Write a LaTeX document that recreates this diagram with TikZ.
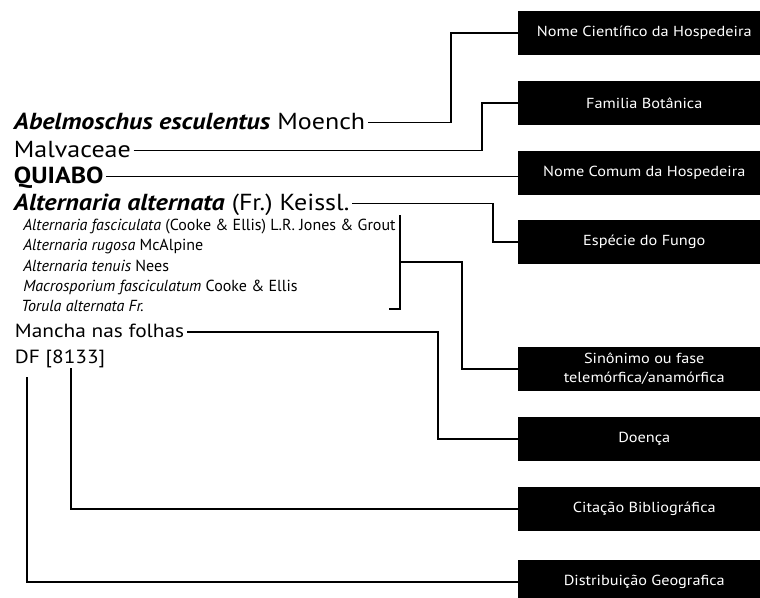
\documentclass[tikz,border=0pt]{standalone}
\usepackage{fontspec}
\setmainfont{PT Sans}
\newfontfamily\widesans{PT Sans}[FakeStretch=1.12]
\usepackage{tikz}
\usetikzlibrary{calc}
\frenchspacing

\begin{document}
\begin{tikzpicture}[x=0.75pt,y=-0.75pt,
entry/.style={anchor=base west,inner xsep=2pt,inner ysep=0pt,text height=10pt,text depth=0pt,font=\widesans\fontsize{17.4}{19}\selectfont},
small/.style={anchor=base west,inner sep=0pt,font=\fontsize{12}{13}\selectfont},
mid/.style={entry,text height=7.5pt,font=\widesans\fontsize{14.3}{16}\selectfont},
label/.style={anchor=north west,fill=black,text=white,minimum width=189pt,minimum height=32.5pt,align=center,inner sep=0pt,font=\widesans\fontsize{10.9}{14}\selectfont},
link/.style={line width=1pt}]
\useasboundingbox (0,0) rectangle (760,597);
\node[label] (sci) at (518, 11) {Nome Científico da Hospedeira};
\node[label] (fam) at (518, 81) {Familia Botânica};
\node[label] (com) at (518,151) {Nome Comum da Hospedeira};
\node[label] (fun) at (518,220) {Espécie do Fungo};
\node[label] (sin) at (518,347) {Sinônimo ou fase\\telemórfica/anamórfica};
\node[label] (doe) at (518,417) {Doença};
\node[label] (cit) at (518,487) {Citação Bibliográfica};
\node[label] (dis) at (518,560) {Distribuição Geografica};
\node[entry] (host) at (11,129) {\textbf{\textit{Abelmoschus esculentus}} Moench};
\node[entry] (family) at (11,157) {Malvaceae};
\node[entry] (common) at (11,183) {\textbf{QUIABO}};
\node[entry] (fungus) at (11,210) {\textbf{\textit{Alternaria alternata}} (Fr.) Keissl.};
\node[small] (syn1) at (23,230) {\textit{Alternaria fasciculata} (Cooke \& Ellis) L.R. Jones \& Grout};
\node[small] (syn2) at (23,250) {\textit{Alternaria rugosa} McAlpine};
\node[small] (syn3) at (23,271) {\textit{Alternaria tenuis} Nees};
\node[small] (syn4) at (23,291) {\textit{Macrosporium fasciculatum} Cooke \& Ellis};
\node[small] (syn5) at (21,311) {\textit{Torula alternata Fr.}};
\node[mid] (disease) at (12,337) {Mancha nas folhas};
\node[mid] (ref) at (12,363) {DF [8133]};
\coordinate (v1) at (451,0);
\coordinate (v2) at (482,0);
\coordinate (v4) at (493,0);
\coordinate (v5) at (462,0);
\coordinate (v6) at (438,0);
\coordinate (brtop) at (400,215);
\coordinate (brbot) at (400,309);
\coordinate (brmid) at ($(brtop)!.5!(brbot)$);
\coordinate (refpin) at (71,368);
\coordinate (distpin) at (27,377);
\draw[link] (host.east) -- (host.east -| v1) |- (sci.west);
\draw[link] (family.east) -- (family.east -| v2) |- (fam.west);
\draw[link] (common.east) -- (common.east -| com.west);
\draw[link] (fungus.east) -- (fungus.east -| v4) |- (fun.west);
\draw[link] (brtop) -- (brbot) -- ++(-11,0);
\draw[link] (brmid) -- (brmid -| v5) |- (sin.west);
\draw[link] (disease.east) -- (disease.east -| v6) |- (doe.west);
\draw[link] (refpin) |- (cit.west);
\draw[link] (distpin) |- (dis.west);
\end{tikzpicture}
\end{document}
